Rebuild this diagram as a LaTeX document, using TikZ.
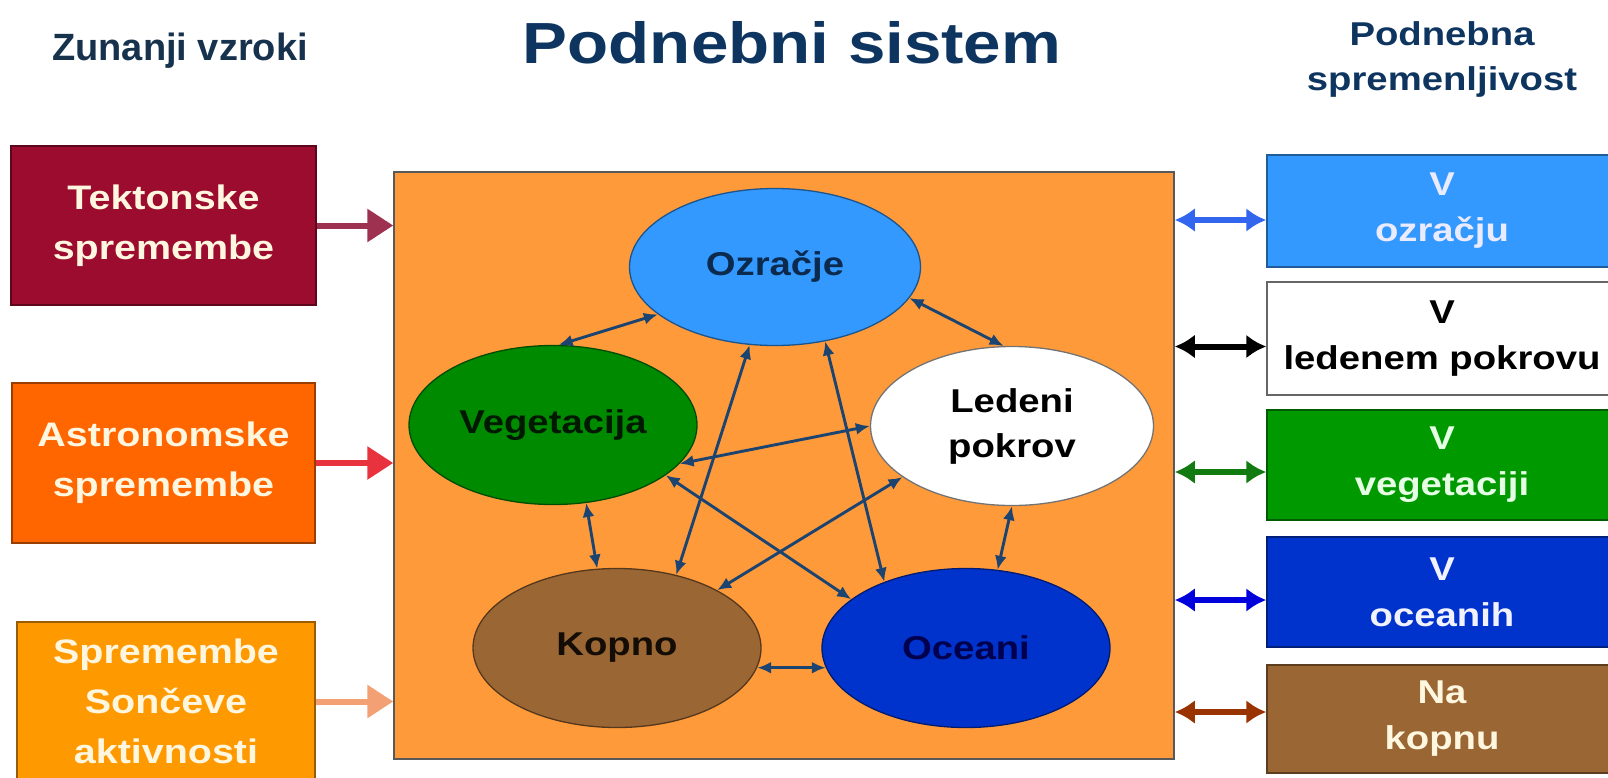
\documentclass[tikz,border=0pt]{standalone}
\usepackage{fontspec}
\setmainfont{Liberation Sans}
\newfontfamily\widesans{Liberation Sans}[FakeStretch=1.16]
\usetikzlibrary{shapes.geometric, arrows.meta, calc}
\definecolor{titlenavy}{HTML}{0E3560}
\definecolor{headnavy}{HTML}{17324D}
\definecolor{tektred}{HTML}{9B0C2E}
\definecolor{astrorange}{HTML}{FF6600}
\definecolor{soncorange}{HTML}{FF9900}
\definecolor{sysorange}{HTML}{FF9A3A}
\definecolor{ozblue}{HTML}{3399FF}
\definecolor{veggreen}{HTML}{008A00}
\definecolor{kopbrown}{HTML}{9A6633}
\definecolor{oceblue}{HTML}{0033CC}
\definecolor{rvgreen}{HTML}{009900}
\definecolor{tektarrow}{HTML}{9E3050}
\definecolor{astrarrow}{HTML}{E8333F}
\definecolor{soncarrow}{HTML}{F2A074}
\definecolor{atmarrow}{HTML}{3366EE}
\definecolor{vegarrow}{HTML}{117A11}
\definecolor{oceanarrow}{HTML}{0000DD}
\definecolor{landarrow}{HTML}{993300}
\definecolor{linknavy}{HTML}{1B4470}
\definecolor{creamtext}{HTML}{FFF6E0}
\tikzset{>=Latex,
  causebox/.style={rectangle, draw=#1!60!black, line width=1.5pt, fill=#1, inner sep=0pt,
    align=center, text=creamtext, font=\widesans\bfseries\fontsize{34}{50}\selectfont},
  partball/.style={ellipse, draw=#1!55!black, line width=1.3pt, fill=#1, inner sep=0pt,
    minimum width=288pt, minimum height=159pt, align=center,
    font=\widesans\bfseries\fontsize{33}{45}\selectfont},
  varbox/.style={rectangle, draw=#1!60!black, line width=1.5pt, fill=#1, inner sep=0pt,
    minimum width=350pt, align=center, font=\widesans\bfseries\fontsize{33}{46}\selectfont},
  link/.style={draw=linknavy, line width=2.9pt, {Latex[length=14pt,width=12pt]}-{Latex[length=14pt,width=12pt]}},
  feed/.style={draw=#1, line width=6pt, -{Triangle[length=26pt,width=32pt]}},
  swap/.style={draw=#1, line width=6pt, {Latex[length=20pt,width=24pt]}-{Latex[length=20pt,width=24pt]}}
}

\begin{document}
\begin{tikzpicture}[x=1pt, y=-1pt]
    \path[use as bounding box] (0,0) rectangle (1608,777);
    \clip (0,0) rectangle (1608,777);
    \fill [white] (0,0) rectangle (1608,777);
    % naslovi
    \node [anchor=base, text=headnavy, font=\bfseries\fontsize{38}{44}\selectfont] (zun) at (180,60) {Zunanji vzroki};
    \node [anchor=base, text=titlenavy, font=\widesans\bfseries\fontsize{58}{66}\selectfont] (pods) at (792,63) {Podnebni sistem};
    \node [align=center, text=titlenavy, font=\widesans\bfseries\fontsize{33}{45}\selectfont] (podsp) at (1442,59) {Podnebna\\spremenljivost};
    % sistem
    \node [rectangle, draw=black!65, line width=1.5pt, fill=sysorange, minimum width=780pt, minimum height=587pt] (sis) at (784,465.5) {};
    % zunanji vzroki
    \node [causebox=tektred, minimum width=305pt, minimum height=159pt] (tekt) at (163.5,225.5) {Tektonske\\spremembe};
    \node [causebox=astrorange, minimum width=303pt, minimum height=160pt] (astr) at (163.5,463) {Astronomske\\spremembe};
    \node [causebox=soncorange, minimum width=298pt, minimum height=159pt] (sonc) at (166,701.5) {Spremembe\\Sončeve\\aktivnosti};
    \foreach \bx/\clr in {tekt/tektarrow, astr/astrarrow, sonc/soncarrow}
        \draw [feed=\clr] (\bx.east) -- (\bx.east -| sis.west);
    % deli sistema
    \node [partball=ozblue, text=titlenavy!80!black, minimum width=291pt, minimum height=157pt] (oz) at (775,267) {Ozračje};
    \node [partball=veggreen, text=black!90!green] (veg) at (553,425) {Vegetacija};
    \node [partball=white, draw=black!55, text=black, minimum width=283pt] (led) at (1012,426) {Ledeni\\pokrov};
    \node [partball=kopbrown, text=black!90!brown] (kop) at (617,648) {Kopno};
    \node [partball=oceblue, text=black!70!blue] (oce) at (966,648) {Oceani};
    \draw [link] (oz.202) -- (veg.86);
    \draw [link] (oz.347) -- (led.96);
    \draw [link] (oz.252) -- (kop.51);
    \draw [link] (oz.304) -- (oce.141);
    \draw [link] (veg.343) -- (led.180);
    \draw [link] (veg.336) -- (oce.157);
    \draw [link] (led.205) -- (kop.30);
    \draw [link] (veg.293) -- (kop.104);
    \draw [link] (led.270) -- (oce.68);
    \draw [link] (kop.352) -- (oce.188);
    % podnebna spremenljivost
    \node [varbox=ozblue, text=white!92!blue, minimum height=112pt] (vozr) at (1442,211) {V\\ozračju};
    \node [varbox=white, draw=black!60, text=black, minimum height=113pt] (vled) at (1442,338.5) {V\\ledenem pokrovu};
    \node [varbox=rvgreen, text=white!90!green, minimum height=110pt] (vveg) at (1442,465) {V\\vegetaciji};
    \node [varbox=oceblue, text=white!95!blue, minimum height=110pt] (voce) at (1442,592) {V\\oceanih};
    \node [varbox=kopbrown, text=creamtext, minimum height=108pt] (vkop) at (1442,719) {Na\\kopnu};
    \foreach \bx/\clr/\dy in {vozr/atmarrow/-9, vled/black/-8, vveg/vegarrow/-7, voce/oceanarrow/-8, vkop/landarrow/7} {
        \coordinate (end-\bx) at ([yshift=\dy pt]\bx.west);
        \draw [swap=\clr] (end-\bx -| sis.east) -- (end-\bx);
    }
\end{tikzpicture}
\end{document}
